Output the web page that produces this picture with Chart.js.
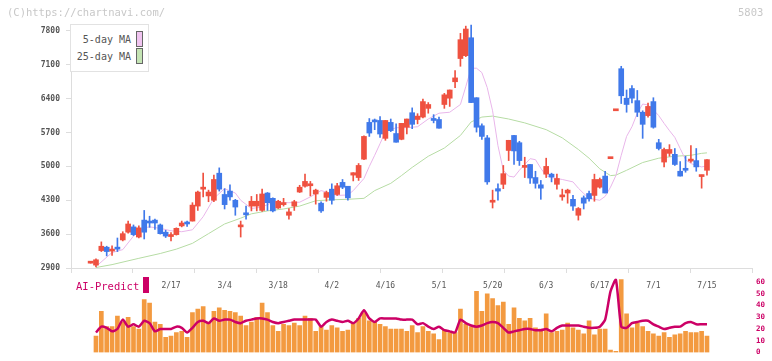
<!DOCTYPE html>
<html>
<head>
<meta charset="utf-8">
<script src="https://cdn.jsdelivr.net/npm/chart.js@4/dist/chart.umd.min.js"></script>
<style>
  body { margin: 0; background: #fff; }
  #wrap { position: relative; width: 772px; height: 361px; overflow: hidden; font-family: "DejaVu Sans Mono", monospace; }
  canvas { position: absolute; left: 0; }
  #priceChart { top: 0; }
  #aiChart { top: 270px; }
  .txt { position: absolute; white-space: nowrap; line-height: 1; }
  .mark { color: #c8c8c8; font-size: 10.5px; top: 7px; }
  #legendBox { position: absolute; left: 70px; top: 24px; width: 77px; height: 46px; border: 1px solid #e2e2e2; background: #fff; }
  .lg { color: #555; font-size: 10px; right: 17px; }
  .sw { position: absolute; left: 65px; width: 5px; height: 14px; border: 1px solid #666; }
  #aiLabel { left: 76px; top: 281px; color: #cc0066; font-size: 10.5px; }
  #aiSwatch { position: absolute; left: 143px; top: 277px; width: 6px; height: 16px; background: #cc0066; }
</style>
</head>
<body>
<div id="wrap">
  <canvas id="priceChart" width="772" height="295"></canvas>
  <canvas id="aiChart" width="772" height="91"></canvas>
  <div class="txt mark" style="left:7px">(C)https://chartnavi.com/</div>
  <div class="txt mark" style="left:738px">5803</div>
  <div id="legendBox">
    <div class="txt lg" style="top:10px">5-day MA</div>
    <div class="sw" style="top:6px;background:#f0c4f0"></div>
    <div class="txt lg" style="top:27px">25-day MA</div>
    <div class="sw" style="top:23px;background:#c4e4b4"></div>
  </div>
  <div class="txt" id="aiLabel">AI-Predict</div>
  <div id="aiSwatch"></div>
</div>
<script>
// daily candles, first one is day -1
const firstDay = -1;
const opens  = [3000,2960,3260,3330,3250,3330,3480,3640,3750,3540,3890,3870,3890,3790,3640,3550,3590,3770,3830,3870,4180,4530,4390,4300,4860,4420,4490,4300,3750,4030,4180,4180,4090,4450,4340,4140,4210,3990,4180,4470,4590,4600,4430,4240,4360,4530,4420,4670,4590,4820,4770,5150,5910,5950,5950,5580,5910,5680,5560,5810,6110,5970,6020,6200,5970,5970,6280,6410,6750,7230,7290,7660,6420,5840,5590,4260,4540,4630,5330,5640,5490,4980,5040,4770,4620,4840,4840,4630,4370,4450,4320,3990,4350,4440,4400,4570,4800,5160,6150,7020,6410,6610,6360,6120,6050,6340,5490,5090,5270,5250,4900,4960,5110,5120,4790,4920];
const highs  = [3000,3090,3440,3350,3360,3520,3650,3870,3790,3770,4090,3970,3910,3810,3680,3630,3730,3870,3870,4250,4490,4860,4510,4820,4970,4540,4620,4320,3870,4180,4380,4420,4530,4460,4350,4300,4340,4130,4300,4610,4840,4690,4530,4270,4490,4640,4650,4730,4590,4870,5060,5630,5990,5980,6030,5950,5980,5880,5890,5980,6210,6090,6390,6320,6070,6020,6510,6580,6980,7750,7900,7920,6420,5880,5640,4510,4640,5020,5540,5640,5520,5190,5040,4900,4710,5170,4860,4840,4530,4530,4400,4150,4390,4490,4840,4760,4900,5160,6150,7070,6580,6670,6570,6150,6310,6420,5560,5380,5450,5370,5100,5210,5430,5370,4820,5140];
const lows   = [3000,2920,3240,3150,3160,3240,3460,3620,3570,3520,3500,3740,3700,3600,3530,3460,3580,3750,3760,3870,4090,4370,4270,4270,4490,4120,4300,3990,3540,3910,4080,4080,4070,4090,4060,4130,4180,3910,4090,4460,4570,4390,4220,4050,4280,4220,4400,4540,4300,4700,4710,5140,5620,5760,5600,5540,5720,5500,5550,5670,5780,5880,6000,6100,5900,5790,6200,6240,6630,7070,7270,6320,5710,5560,4630,4140,4300,4540,5120,5040,5020,4770,4650,4550,4320,4770,4680,4530,4300,4240,4090,3890,4120,4280,4280,4550,4450,5160,6150,6300,6120,6310,6030,5580,6020,5790,5340,4990,5210,5020,4800,4880,5080,4900,4550,4820];
const closes = [3000,3070,3350,3240,3290,3290,3610,3810,3590,3730,3640,3830,3830,3610,3560,3570,3720,3830,3810,4200,4470,4570,4470,4730,4530,4210,4370,4160,3770,4000,4280,4280,4430,4250,4080,4280,4230,4060,4270,4570,4690,4620,4510,4080,4460,4300,4600,4570,4350,4870,5020,5620,5690,5920,5670,5950,5740,5500,5890,5980,5870,6040,6340,6280,5950,5790,6480,6580,6830,7620,7840,6320,5810,5620,4680,4300,4490,4850,5540,5320,5120,5020,4760,4650,4550,5000,4780,4750,4410,4510,4180,4130,4240,4330,4730,4730,4450,5160,6150,6460,6280,6410,6120,5870,6240,5810,5370,5350,5350,5040,4800,4920,5140,4990,4790,5140];

// moving averages (day, price)
const ma5Days = [0,3,5,7,9,10,12,14,16,18,20,22,24,26,27,29,31,33,36,38,40,42,43,45,47,48,50,51,52,53,54,56,58,60,62,64,66,68,69,70,71,72,73,74,75,76,77,78,79,80,81,82,83,84,85,87,89,90,91,92,94,95,96,97,98,99,100,101,102,103,104,105,106,107,108,109,110,111,112,113,114];
const ma5    = [2930,3220,3280,3560,3730,3750,3720,3670,3650,3690,3960,4340,4540,4450,4300,4130,4160,4260,4250,4260,4370,4500,4470,4400,4410,4500,4750,5000,5230,5470,5720,5800,5800,5820,5980,6100,6120,6280,6650,7030,7030,6940,6630,6150,5430,4920,4800,4780,4920,5040,5160,5140,4960,4810,4770,4730,4680,4550,4440,4340,4300,4380,4570,4810,5230,5620,5820,6100,6290,6270,6170,6050,5890,5740,5600,5370,5140,5060,5020,4990,5010];
const ma25Days = [0,3,8,12,15,18,21,24,27,29,32,35,38,41,44,47,50,52,55,57,59,62,65,68,70,72,74,77,80,84,87,90,92,94,96,97,99,102,105,108,111,113,114];
const ma25   = [2910,2970,3100,3200,3290,3410,3610,3810,3930,4020,4080,4120,4180,4290,4310,4320,4340,4500,4650,4810,4980,5210,5380,5640,5920,6020,6040,5980,5900,5760,5590,5350,5170,4950,4810,4820,4920,5080,5170,5210,5230,5270,5280];

// AI-Predict panel, one value per day from day 0
const volume = [14,35,22,22,31,26,30,22,20,45, 42,26,24,13,14,17,18,13,34,37, 39,26,35,38,36,35,34,31,23,26, 30,42,34,23,18,24,23,25,23,31, 29,18,22,19,23,21,18,19,25,29, 34,27,26,24,22,20,20,20,18,23, 17,22,18,16,11,19,17,17,37,24, 22,52,35,50,46,40,43,24,38,29, 27,29,21,20,33,17,18,19,25,21, 19,16,27,15,20,20,2,1,62,33, 21,25,22,18,16,14,17,13,15,16, 18,17,17,18,14];
const aiPredict = [17,22,21,18,20,28,22,24,22,27, 25,18,20,20,20,22,21,17,21,26, 27,25,29,27,28,28,26,25,27,28, 29,29,28,26,25,26,27,28,28,28, 28,28,22,26,28,27,26,27,25,29, 36,29,26,29,29,29,29,28,28,28, 24,25,22,20,22,19,18,17,28,25, 23,22,23,25,26,25,21,17,18,19, 20,20,19,19,20,18,21,23,23,23, 23,22,21,21,22,28,52,62,22,21, 25,26,27,27,24,22,20,21,22,22, 25,26,24,24,24];

const dateLabels = ['2/17','3/4','3/18','4/2','4/16','5/1','5/20','6/3','6/17','7/1','7/15'];
const labelDays  = [14,24,34,44,54,64,74,84,94,104,114];
const priceTicks = [2900,3600,4300,5000,5700,6400,7100,7800];
const aiTicks    = [0,10,20,30,40,50,60];

const X_MIN = -4.66, X_MAX = 122.4;
const RED = '#ef5140', BLUE = '#4079ea';
const MONO = 'DejaVu Sans Mono';

let bodies = [], wicks = [], candleColors = [];
opens.forEach((o, k) => {
  let d = firstDay + k;
  bodies.push({ x: d, y: [o, closes[k]] });
  wicks.push({ x: d, y: [lows[k], highs[k]] });
  candleColors.push(closes[k] >= o ? RED : BLUE);
});
let ma5Points = ma5Days.map((d, k) => ({ x: d, y: ma5[k] }));
let ma25Points = ma25Days.map((d, k) => ({ x: d, y: ma25[k] }));
let volPoints = volume.map((v, d) => ({ x: d, y: v }));
let aiPoints = aiPredict.map((v, d) => ({ x: d, y: v }));

new Chart(document.getElementById('priceChart'), {
  type: 'bar',
  data: {
    datasets: [
      { type: 'bar', data: bodies, backgroundColor: candleColors, barThickness: 5, minBarLength: 2, grouped: false, xAxisID: 'x', yAxisID: 'y' },
      { type: 'bar', data: wicks, backgroundColor: candleColors, barThickness: 1, grouped: false, xAxisID: 'x', yAxisID: 'y' },
      { type: 'line', data: ma5Points, borderColor: '#e9b6ea', borderWidth: 1, pointRadius: 0, xAxisID: 'x', yAxisID: 'y' },
      { type: 'line', data: ma25Points, borderColor: '#b6dca4', borderWidth: 1, pointRadius: 0, xAxisID: 'x', yAxisID: 'y' }
    ]
  },
  options: {
    responsive: false,
    animation: false,
    devicePixelRatio: 1,
    layout: { padding: { top: 24, right: 20, left: 0, bottom: 0 } },
    plugins: { legend: { display: false }, tooltip: { enabled: false } },
    scales: {
      x: {
        type: 'linear', position: 'bottom', min: X_MIN, max: X_MAX, weight: 1, offset: false,
        grid: { display: false, drawTicks: false, offset: false },
        border: { display: false },
        afterBuildTicks: s => { s.ticks = labelDays.map(v => ({ value: v })); },
        afterFit: s => { s.height = 22; },
        ticks: {
          autoSkip: false, maxRotation: 0, padding: 8, color: '#555',
          font: { family: MONO, size: 8 },
          callback: v => dateLabels[labelDays.indexOf(v)]
        }
      },
      xg: {
        type: 'linear', position: 'bottom', min: 0, max: 11, weight: 0, offset: false,
        ticks: { display: false, stepSize: 1 },
        grid: { drawOnChartArea: false, tickLength: 5, color: '#ddd', offset: false },
        border: { color: '#ddd' },
        afterFit: s => { s.height = 5; }
      },
      y: {
        type: 'linear', position: 'left', min: 2900, max: 7944,
        afterBuildTicks: s => { s.ticks = priceTicks.map(v => ({ value: v })); },
        afterFit: s => { s.width = 71; },
        ticks: { color: '#555', padding: 6, font: { family: MONO, size: 8, weight: 'bold' }, callback: v => String(v) },
        grid: { drawOnChartArea: false, tickLength: 5, color: '#ddd' },
        border: { color: '#ddd' }
      }
    }
  }
});

new Chart(document.getElementById('aiChart'), {
  type: 'bar',
  data: {
    datasets: [
      { type: 'line', data: aiPoints, borderColor: '#cc0066', borderWidth: 2.5, pointRadius: 0, tension: 0.2 },
      { type: 'bar', data: volPoints, backgroundColor: '#f39a40', barThickness: 4 }
    ]
  },
  options: {
    responsive: false,
    animation: false,
    devicePixelRatio: 1,
    layout: { padding: { top: 8, bottom: 3, left: 71, right: 0 } },
    plugins: { legend: { display: false }, tooltip: { enabled: false } },
    scales: {
      x: { type: 'linear', min: X_MIN, max: X_MAX, display: false, offset: false, grid: { offset: false } },
      y: {
        position: 'right', min: 0, max: 63,
        afterBuildTicks: s => { s.ticks = aiTicks.map(v => ({ value: v })); },
        afterFit: s => { s.width = 20; },
        ticks: { color: '#cc0066', padding: 4, font: { family: MONO, size: 7.5, weight: 'bold' }, callback: v => String(v) },
        grid: { display: false, drawTicks: false },
        border: { display: false }
      }
    }
  }
});
</script>
</body>
</html>
